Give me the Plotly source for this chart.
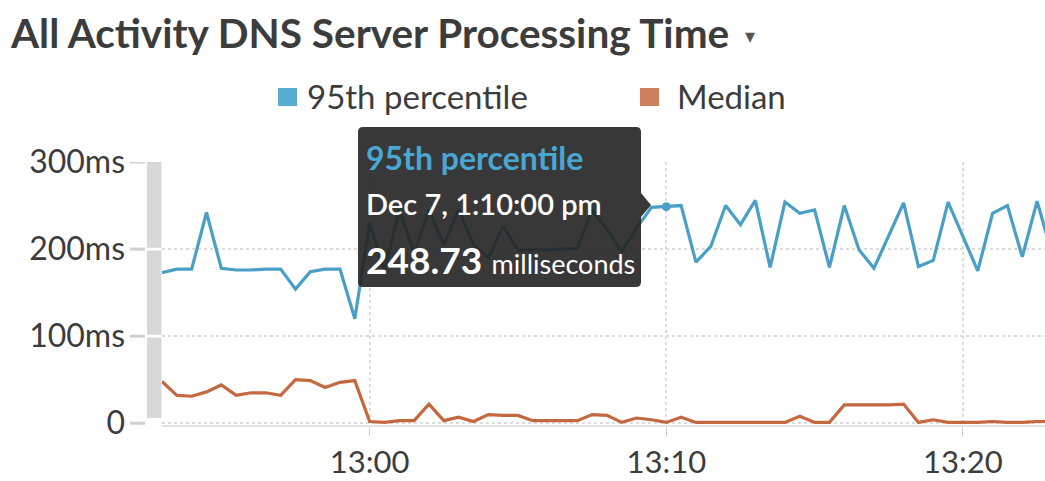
import plotly.graph_objects as go
import pandas as pd

# ---------------- data ----------------
start_time = "2023-12-07 12:53:00"
p95_ms = [173, 177, 177, 242, 178, 176, 176, 177, 177, 154,
          174, 177, 177, 120, 230, 175, 245, 195, 245, 205,
          245, 205, 190, 226, 199, 199, 199, 200, 201, 245,
          222, 197, 224, 248, 248.73, 250, 185, 203, 250, 228,
          256, 179, 254, 241, 245, 179, 250, 199, 178, 216,
          253, 180, 187, 254, 214, 175, 241, 250, 191, 255, 195]
median_ms = [48, 32, 31, 36, 44, 32, 35, 35, 32, 50,
             49, 41, 47, 49, 2, 1, 3, 3, 22, 3,
             7, 2, 10, 9, 9, 3, 3, 3, 3, 10,
             9, 1, 6, 4, 1, 7, 1, 1, 1, 1,
             1, 1, 1, 8, 1, 1, 21, 21, 21, 21,
             22, 1, 4, 1, 1, 1, 2, 1, 1, 2, 2]
times = pd.date_range(start_time, periods=len(p95_ms), freq="30s")
hover_index = 34
y_tickvals = [0, 100, 200, 300]
y_ticktext = ["0", "100ms", "200ms", "300ms"]
series_names = ["95th percentile", "Median"]
title_text = "All Activity DNS Server Processing Time"
tooltip_date = "Dec 7, 1:10:00 pm"
tooltip_unit = "milliseconds"

BLUE = "#4a9fc7"
ORANGE = "#c4693f"
TEXT = "#3c3c3c"
FONT = "Lato"

# ---------------- layout geometry (pixels) ----------------
W, H = 1045, 481
L, R, T, B = 162, 1045, 162, 425


def fx(px):
    return (px - L) / (R - L)


def fy(py):
    return (B - py) / (B - T)


fig = go.Figure()
fig.add_trace(go.Scatter(x=times, y=p95_ms, mode="lines", name=series_names[0],
                         line=dict(color=BLUE, width=3.2), showlegend=False))
fig.add_trace(go.Scatter(x=times, y=median_ms, mode="lines", name=series_names[1],
                         line=dict(color=ORANGE, width=3.2), showlegend=False))

shapes = []
# left gray band
for a, b in [(6, 98.5), (101.5, 198.5), (201.5, 300)]:
    shapes.append(dict(type="rect", xref="paper", yref="y", x0=fx(147), x1=fx(161.5),
                       y0=a, y1=b, fillcolor="#d8d8d8", line=dict(width=0), layer="above"))
# y tick marks
for v in y_tickvals:
    shapes.append(dict(type="line", xref="paper", yref="y", x0=fx(130), x1=fx(145),
                       y0=v, y1=v, line=dict(color="#d0d0d0", width=3)))

# tooltip box
bx0, bx1, by0, by1, r = 358, 641, 127, 287, 5
pts = [
    ("M", bx0 + r, by0), ("L", bx1 - r, by0), ("Q", bx1, by0, bx1, by0 + r),
    ("L", bx1, 193), ("L", 651, 205), ("L", bx1, 217), ("L", bx1, by1 - r),
    ("Q", bx1, by1, bx1 - r, by1), ("L", bx0 + r, by1), ("Q", bx0, by1, bx0, by1 - r),
    ("L", bx0, by0 + r), ("Q", bx0, by0, bx0 + r, by0),
]
path = ""
for p in pts:
    cmd = p[0]
    coords = p[1:]
    segs = []
    for i in range(0, len(coords), 2):
        segs.append(f"{fx(coords[i]):.5f},{fy(coords[i+1]):.5f}")
    path += cmd + " " + " ".join(segs) + " "
path += "Z"
shapes.append(dict(type="path", xref="paper", yref="paper", path=path,
                   fillcolor="rgba(36,36,36,0.91)", line=dict(width=0), layer="above"))

# legend squares
shapes.append(dict(type="rect", xref="paper", yref="paper", x0=fx(278), x1=fx(297),
                   y0=fy(106), y1=fy(88), fillcolor="#5aaed4", line=dict(width=0)))
shapes.append(dict(type="rect", xref="paper", yref="paper", x0=fx(640), x1=fx(659),
                   y0=fy(106), y1=fy(88), fillcolor="#cf7f5c", line=dict(width=0)))

annotations = [
    dict(xref="paper", yref="paper", x=fx(305), y=fy(96), text=series_names[0],
         xanchor="left", yanchor="middle", showarrow=False,
         font=dict(family=FONT, size=33, color=TEXT)),
    dict(xref="paper", yref="paper", x=fx(675), y=fy(96), text=series_names[1],
         xanchor="left", yanchor="middle", showarrow=False,
         font=dict(family=FONT, size=33, color=TEXT)),
    dict(xref="paper", yref="paper", x=fx(743), y=fy(36), text="▾",
         xanchor="left", yanchor="middle", showarrow=False,
         font=dict(family="DejaVu Sans", size=20, color="#555")),
    # tooltip texts
    dict(xref="paper", yref="paper", x=fx(364), y=fy(157), text="<b>" + series_names[0] + "</b>",
         xanchor="left", yanchor="middle", showarrow=False,
         font=dict(family=FONT, size=32, color="#4aa6d3")),
    dict(xref="paper", yref="paper", x=fx(364), y=fy(203), text=tooltip_date,
         xanchor="left", yanchor="middle", showarrow=False,
         font=dict(family=FONT, size=29, color="white", weight=600)),
    dict(xref="paper", yref="paper", x=fx(364), y=fy(259),
         text=f"<b>{p95_ms[hover_index]:.2f}</b> <span style='font-size:27px'>{tooltip_unit}</span>",
         xanchor="left", yanchor="middle", showarrow=False,
         font=dict(family=FONT, size=37, color="white")),
]

fig.add_trace(go.Scatter(x=[times[hover_index]], y=[p95_ms[hover_index]], mode="markers",
                         marker=dict(color=BLUE, size=9), showlegend=False, hoverinfo="skip"))

fig.update_layout(
    width=W, height=H,
    margin=dict(l=L, r=W - R, t=T, b=H - B, autoexpand=False),
    paper_bgcolor="white", plot_bgcolor="white",
    showlegend=False,
    title=dict(text=title_text, x=11 / W, xanchor="left", xref="container",
               y=1 - 34 / H, yanchor="middle", yref="container", automargin=False,
               font=dict(family=FONT, size=40.5, color=TEXT, weight="bold")),
    shapes=shapes,
    annotations=annotations,
    xaxis=dict(
        range=[pd.Timestamp("2023-12-07 12:53:00"), pd.Timestamp("2023-12-07 13:22:46")],
        tick0="2023-12-07 13:00:00", dtick=600000, tickformat="%H:%M",
        showgrid=True, gridcolor="#dcdcdc", griddash="dot", gridwidth=1.5,
        showline=True, linecolor="#e2e2e2", linewidth=2,
        ticks="outside", ticklen=9, tickcolor="#cfcfcf", tickwidth=1,
        tickfont=dict(family=FONT, size=31, color=TEXT),
        zeroline=False, automargin=False,
    ),
    yaxis=dict(
        range=[-2, 300], tickvals=y_tickvals, ticktext=y_ticktext,
        showgrid=True, gridcolor="#dcdcdc", griddash="dot", gridwidth=1.5,
        zeroline=False, showline=False, ticks="",
        ticklabelstandoff=36, automargin=False,
        tickfont=dict(family=FONT, size=32, color=TEXT),
    ),
)

fig.write_html("out.html", config={"displayModeBar": False},
               post_script="document.body.style.margin='0';")
